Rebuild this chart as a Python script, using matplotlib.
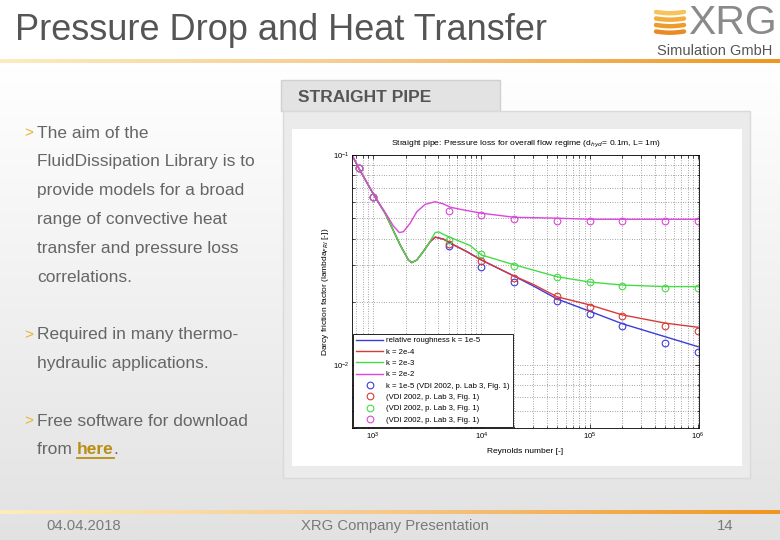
import matplotlib
matplotlib.use("Agg")
import numpy as np
import matplotlib.pyplot as plt
from matplotlib.colors import LinearSegmentedColormap
from matplotlib.patches import Rectangle

plt.rcParams['font.family'] = ['Liberation Sans', 'DejaVu Sans']

# friction factor curves (Reynolds number, lambda)
re_k1 = [640, 740, 1040, 1290, 1780, 2120, 2280, 2540, 2830, 3380, 3750, 4480,
         5540, 7370, 1e4, 2e4, 3e4, 5e4, 1e5, 2e5, 5e5, 1e6]
f_k1 = [0.100, 0.0864, 0.0633, 0.0529, 0.0373, 0.0316, 0.0307, 0.0316, 0.0340,
        0.0387, 0.0406, 0.0397, 0.0373, 0.0346, 0.0316, 0.0265, 0.0238, 0.0206,
        0.0180, 0.0157, 0.0136, 0.0122]
re_k2 = re_k1
f_k2 = [0.100, 0.0864, 0.0633, 0.0529, 0.0373, 0.0316, 0.0307, 0.0316, 0.0340,
        0.0387, 0.0406, 0.0397, 0.0373, 0.0346, 0.0316, 0.0265, 0.0242, 0.0211,
        0.0193, 0.0173, 0.0158, 0.0151]
re_k3 = [640, 740, 1040, 1290, 1780, 2120, 2280, 2540, 3140, 3750, 4020, 4810,
         6390, 7910, 1e4, 2e4, 5e4, 1e5, 2e5, 5e5, 1e6]
f_k3 = [0.100, 0.0864, 0.0633, 0.0529, 0.0373, 0.0316, 0.0307, 0.0316, 0.0366,
        0.0427, 0.0430, 0.0411, 0.0387, 0.0370, 0.0334, 0.0300, 0.0263, 0.0248,
        0.0240, 0.0236, 0.0236]
re_k4 = [640, 740, 1040, 1340, 1540, 1750, 1910, 2200, 2540, 3030, 3750, 4480,
         5170, 6390, 1e4, 2e4, 5e4, 1e5, 1e6]
f_k4 = [0.100, 0.0864, 0.0633, 0.0518, 0.0459, 0.0427, 0.0431, 0.0473, 0.0537,
        0.0582, 0.0599, 0.0584, 0.0564, 0.0551, 0.0528, 0.0505, 0.0500, 0.0494,
        0.0494]

# VDI 2002 reference points
re_vdi = [750, 1000, 5000, 1e4, 2e4, 5e4, 1e5, 2e5, 5e5, 1e6]
vdi_k1 = [0.087, 0.0633, 0.0369, 0.0294, 0.0249, 0.0202, 0.0175, 0.0153, 0.0127, 0.0115]
vdi_k2 = [0.087, 0.0633, 0.0378, 0.0311, 0.0259, 0.0213, 0.0188, 0.0170, 0.0153, 0.0145]
vdi_k3 = [0.087, 0.0633, 0.0394, 0.0338, 0.0296, 0.0262, 0.0247, 0.0238, 0.0233, 0.0233]
vdi_k4 = [0.087, 0.0633, 0.0543, 0.0518, 0.0494, 0.0485, 0.0485, 0.0486, 0.0485, 0.0486]

line_labels = ['relative roughness k = 1e-5', 'k = 2e-4', 'k = 2e-3', 'k = 2e-2']
vdi_labels = ['k = 1e-5 (VDI 2002, p. Lab 3, Fig. 1)', '(VDI 2002, p. Lab 3, Fig. 1)',
              '(VDI 2002, p. Lab 3, Fig. 1)', '(VDI 2002, p. Lab 3, Fig. 1)']
colors = ['#3c3cdc', '#d83a3a', '#46dc46', '#dc46dc']

bullets = [
    ['The aim of the', 'FluidDissipation Library is to', 'provide models for a broad',
     'range of convective heat', 'transfer and pressure loss', 'correlations.'],
    ['Required in many thermo-', 'hydraulic applications.'],
    ['Free software for download'],
]
bullet_y = [133, 335, 421]

fig = plt.figure(figsize=(7.8, 5.4), dpi=100)

# slide canvas in pixel coordinates
bg = fig.add_axes([0, 0, 1, 1])
bg.set_xlim(0, 780)
bg.set_ylim(540, 0)
bg.axis('off')

grad = np.linspace(0, 1, 256).reshape(-1, 1)
grey_cmap = LinearSegmentedColormap.from_list('bggrey', ['#ffffff', '#e2e2e2'])
bg.imshow(grad, cmap=grey_cmap, extent=(0, 780, 540, 65), aspect='auto', zorder=0)
bg.add_patch(Rectangle((0, 0), 780, 65, color='white', zorder=0))

orange = LinearSegmentedColormap.from_list('orng', ['#fcecc0', '#f6c88a', '#f0961e'])
hgrad = np.linspace(0, 1, 256).reshape(1, -1)
bg.imshow(hgrad, cmap=orange, extent=(0, 780, 63.5, 60), aspect='auto', zorder=1)
bg.imshow(hgrad, cmap=orange, extent=(0, 780, 514, 510), aspect='auto', zorder=1)

bg.text(15, 30, 'Pressure Drop and Heat Transfer', fontsize=26, color='#555555',
        va='center', ha='left', zorder=3)

# logo
stripe_cols = ['#f7c35a', '#f3ad3e', '#ef9a2c', '#ea8a22']
for i, c in enumerate(stripe_cols):
    yy = 12 + i * 6.5
    xs = np.linspace(656, 684, 20)
    bg.plot(xs, yy + 1.2 * np.sin((xs - 656) / 28 * np.pi), color=c, lw=3.2,
            solid_capstyle='round', zorder=3)
bg.text(732, 23, 'XRG', fontsize=29.5, color='#8a8a8a', ha='center', va='center',
        zorder=3)
bg.text(715, 51, 'Simulation GmbH', fontsize=10.5, color='#555555', ha='center',
        va='center', zorder=3)

# STRAIGHT PIPE tab and panel
bg.add_patch(Rectangle((281, 80), 219, 31, facecolor='#e3e3e3', edgecolor='#d0d0d0',
                       lw=1, zorder=2))
bg.text(298, 97, 'STRAIGHT PIPE', fontsize=12.5, fontweight='bold', color='#555555',
        va='center', ha='left', zorder=3)
bg.add_patch(Rectangle((283, 111), 467, 367, facecolor='#ebebeb', edgecolor='#dadada',
                       lw=1, zorder=2))
bg.add_patch(Rectangle((292, 129), 450, 337, facecolor='white', edgecolor='none', zorder=2))

# bullet text
txt_col = '#666666'
gold = '#e6b428'
step = 28.8
for lines, y0 in zip(bullets, bullet_y):
    bg.text(24, y0, '>', fontsize=11, color=gold, va='center', ha='left', zorder=3)
    for j, s in enumerate(lines):
        bg.text(37, y0 + j * step, s, fontsize=12.5, color=txt_col, va='center',
                ha='left', zorder=3)

t_from = bg.text(37, 450, 'from ', fontsize=12.5, color=txt_col, va='center', ha='left', zorder=3)
fig.canvas.draw()
r = fig.canvas.get_renderer()
inv = bg.transData.inverted()
x1 = inv.transform(t_from.get_window_extent(r))[1][0]
t_here = bg.text(x1, 450, 'here', fontsize=12.5, color='#b88e14', fontweight='bold',
                 va='center', ha='left', zorder=3)
ext = inv.transform(t_here.get_window_extent(r))
bg.plot([ext[0][0], ext[1][0]], [458, 458], color='#b88e14', lw=1.3, zorder=3)
bg.text(ext[1][0], 450, '.', fontsize=12.5, color=txt_col, va='center', ha='left', zorder=3)

# footer
foot_col = '#7a7a7a'
bg.text(46, 526, '04.04.2018', fontsize=10.7, color=foot_col, va='center', ha='left', zorder=3)
bg.text(395, 526, 'XRG Company Presentation', fontsize=10.7, color=foot_col,
        va='center', ha='center', zorder=3)
bg.text(725, 526, '14', fontsize=10.7, color=foot_col, va='center', ha='center', zorder=3)

# chart
ax = fig.add_axes([352 / 780, 1 - 428 / 540, 347 / 780, 273 / 540], zorder=5)
ax.set_xscale('log')
ax.set_yscale('log')

for re_, f_, c, lab in zip([re_k1, re_k2, re_k3, re_k4], [f_k1, f_k2, f_k3, f_k4],
                           colors, line_labels):
    ax.plot(re_, f_, color=c, lw=1.0, label=lab)
for f_, c, lab in zip([vdi_k1, vdi_k2, vdi_k3, vdi_k4], colors, vdi_labels):
    ax.plot(re_vdi, f_, 'o', mfc='none', mec=c, ms=4.8, mew=0.8, label=lab)

ax.set_xlim(640, 1.02e6)
ax.set_ylim(0.005, 0.1)
ax.grid(True, which='both', color='#555555', linestyle=(0, (1, 2.5)), lw=0.5)
ax.tick_params(which='both', direction='in', top=True, right=True, labelsize=5.5,
               width=0.5, pad=2)
ax.tick_params(which='major', length=3)
ax.tick_params(which='minor', length=1.8)
for s in ax.spines.values():
    s.set_linewidth(0.6)

ax.set_title('Straight pipe: Pressure loss for overall flow regime (d$_{hyd}$= 0.1m, L= 1m)',
             fontsize=6.1, pad=7)
ax.set_xlabel('Reynolds number [-]', fontsize=6, labelpad=4)
ax.set_ylabel('Darcy friction factor (lambda$_{FRI}$ [-])', fontsize=6, labelpad=1)

leg = ax.legend(loc='lower left', fontsize=5.6, fancybox=False, edgecolor='black',
                framealpha=1, borderaxespad=0.15, handlelength=3.4, handletextpad=0.4,
                labelspacing=0.5, borderpad=0.4)
leg.get_frame().set_linewidth(0.6)

fig.savefig('out.png', dpi=100)
